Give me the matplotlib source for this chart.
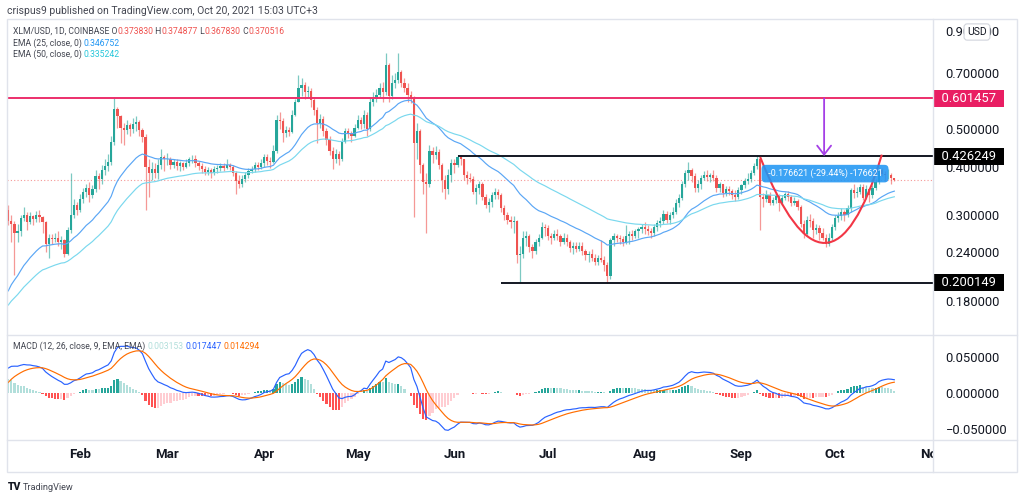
import numpy as np
import pandas as pd
import matplotlib
matplotlib.use("Agg")
import matplotlib.pyplot as plt
from matplotlib.patches import PathPatch, Rectangle
from matplotlib.path import Path
from matplotlib.lines import Line2D
from matplotlib.text import Annotation
from matplotlib.ticker import NullLocator, NullFormatter

plt.rcParams["font.family"] = ["Roboto", "DejaVu Sans"]

# ==========================================================
# Data : XLM/USD daily, Jan 9 -> Oct 20 2021
# ==========================================================

# closes before the visible window (Dec 1 -> Jan 8), only feed the EMAs / MACD
warmup_close = [
    0.170, 0.165, 0.168, 0.160, 0.162, 0.158, 0.155, 0.145, 0.148, 0.142,
    0.140, 0.142, 0.150, 0.152, 0.155, 0.160, 0.168, 0.165, 0.170, 0.168,
    0.158, 0.150, 0.118, 0.125, 0.128, 0.130, 0.135, 0.130, 0.125, 0.128, 0.130,
    0.132, 0.138, 0.152, 0.185, 0.220, 0.275, 0.310, 0.300,
]

first_open = 0.310

close = [
    # Jan 9-31
    0.290, 0.285, 0.270, 0.272, 0.295, 0.300, 0.288, 0.298, 0.293, 0.300, 0.296, 0.288,
    0.252, 0.262, 0.260, 0.262, 0.256, 0.258, 0.238, 0.275, 0.300, 0.318, 0.310,
    # Feb
    0.330, 0.345, 0.352, 0.338, 0.350, 0.378, 0.372, 0.392, 0.402, 0.412, 0.465, 0.565,
    0.540, 0.505, 0.498, 0.512, 0.500, 0.515, 0.522, 0.498, 0.478, 0.400, 0.385, 0.395,
    0.385, 0.405, 0.425, 0.418,
    # Mar
    0.418, 0.405, 0.412, 0.402, 0.408, 0.400, 0.410, 0.418, 0.420, 0.410, 0.402, 0.395,
    0.388, 0.392, 0.385, 0.395, 0.398, 0.402, 0.398, 0.405, 0.400, 0.385, 0.368, 0.362,
    0.372, 0.380, 0.390, 0.395, 0.405, 0.400, 0.410,
    # Apr
    0.425, 0.415, 0.412, 0.440, 0.530, 0.525, 0.490, 0.498, 0.492, 0.545, 0.590, 0.640,
    0.652, 0.625, 0.630, 0.595, 0.560, 0.520, 0.532, 0.495, 0.470, 0.440, 0.420, 0.432,
    0.418, 0.465, 0.495, 0.488, 0.480, 0.505,
    # May
    0.530, 0.515, 0.545, 0.500, 0.590, 0.600, 0.615, 0.640, 0.625, 0.735, 0.610, 0.660,
    0.672, 0.705, 0.660, 0.640, 0.615, 0.600, 0.460, 0.495, 0.405, 0.365, 0.360, 0.440,
    0.430, 0.438, 0.405, 0.370, 0.350, 0.380, 0.410,
    # Jun
    0.405, 0.425, 0.418, 0.382, 0.375, 0.372, 0.345, 0.352, 0.362, 0.335, 0.318, 0.325,
    0.338, 0.345, 0.338, 0.312, 0.300, 0.292, 0.288, 0.290, 0.236, 0.238, 0.262, 0.265,
    0.248, 0.242, 0.255, 0.262, 0.280, 0.278,
    # Jul
    0.265, 0.262, 0.268, 0.264, 0.256, 0.262, 0.255, 0.246, 0.250, 0.245, 0.250, 0.242,
    0.236, 0.238, 0.232, 0.226, 0.232, 0.230, 0.222, 0.208, 0.258, 0.265, 0.262, 0.260,
    0.256, 0.264, 0.268, 0.265, 0.272, 0.276, 0.280,
    # Aug
    0.276, 0.272, 0.270, 0.280, 0.286, 0.290, 0.302, 0.292, 0.300, 0.306, 0.322, 0.332,
    0.362, 0.385, 0.392, 0.378, 0.352, 0.362, 0.375, 0.382, 0.376, 0.380, 0.374, 0.352,
    0.360, 0.342, 0.350, 0.346, 0.338, 0.335, 0.348,
    # Sep
    0.358, 0.368, 0.372, 0.385, 0.402, 0.420, 0.335, 0.330, 0.338, 0.322, 0.328, 0.336,
    0.322, 0.332, 0.340, 0.334, 0.322, 0.326, 0.315, 0.285, 0.268, 0.292, 0.290, 0.275,
    0.278, 0.270, 0.262, 0.252, 0.262, 0.280,
    # Oct 1-20
    0.295, 0.298, 0.305, 0.300, 0.312, 0.348, 0.342, 0.345, 0.355, 0.332, 0.350, 0.338,
    0.352, 0.365, 0.392, 0.384, 0.380, 0.382, 0.373830, 0.370516,
]

high = [
    0.318, 0.300, 0.290, 0.285, 0.300, 0.315, 0.305, 0.305, 0.300, 0.308, 0.310, 0.298,
    0.290, 0.268, 0.268, 0.270, 0.272, 0.264, 0.260, 0.280, 0.385, 0.330, 0.325,
    0.340, 0.352, 0.362, 0.365, 0.358, 0.392, 0.385, 0.405, 0.420, 0.432, 0.480, 0.602,
    0.570, 0.545, 0.520, 0.530, 0.520, 0.535, 0.540, 0.530, 0.505, 0.485, 0.420, 0.412,
    0.410, 0.418, 0.445, 0.430,
    0.435, 0.425, 0.420, 0.418, 0.415, 0.412, 0.418, 0.425, 0.430, 0.428, 0.415, 0.410,
    0.402, 0.400, 0.398, 0.402, 0.405, 0.410, 0.408, 0.418, 0.410, 0.405, 0.390, 0.382,
    0.380, 0.388, 0.398, 0.402, 0.412, 0.412, 0.420,
    0.432, 0.432, 0.425, 0.455, 0.545, 0.555, 0.535, 0.510, 0.508, 0.560, 0.600, 0.690,
    0.680, 0.665, 0.648, 0.640, 0.605, 0.570, 0.548, 0.540, 0.505, 0.480, 0.450, 0.445,
    0.440, 0.475, 0.505, 0.505, 0.495, 0.515,
    0.545, 0.538, 0.560, 0.555, 0.605, 0.625, 0.635, 0.660, 0.665, 0.790, 0.745, 0.690,
    0.700, 0.790, 0.712, 0.680, 0.660, 0.630, 0.610, 0.520, 0.500, 0.410, 0.385, 0.455,
    0.450, 0.452, 0.445, 0.410, 0.380, 0.395, 0.418,
    0.418, 0.430, 0.428, 0.420, 0.390, 0.385, 0.378, 0.360, 0.368, 0.365, 0.340, 0.332,
    0.345, 0.352, 0.350, 0.342, 0.318, 0.305, 0.298, 0.298, 0.292, 0.250, 0.272, 0.272,
    0.268, 0.252, 0.260, 0.268, 0.288, 0.285,
    0.282, 0.270, 0.275, 0.276, 0.268, 0.270, 0.268, 0.258, 0.255, 0.255, 0.255, 0.255,
    0.245, 0.242, 0.245, 0.238, 0.236, 0.258, 0.235, 0.226, 0.262, 0.270, 0.268, 0.266,
    0.265, 0.282, 0.272, 0.275, 0.276, 0.280, 0.285,
    0.288, 0.282, 0.278, 0.284, 0.292, 0.296, 0.310, 0.308, 0.305, 0.315, 0.330, 0.340,
    0.368, 0.392, 0.412, 0.398, 0.385, 0.370, 0.380, 0.390, 0.392, 0.386, 0.392, 0.380,
    0.366, 0.362, 0.356, 0.356, 0.350, 0.348, 0.355,
    0.362, 0.375, 0.385, 0.392, 0.410, 0.428, 0.422, 0.342, 0.348, 0.345, 0.335, 0.342,
    0.340, 0.338, 0.345, 0.346, 0.338, 0.334, 0.330, 0.318, 0.292, 0.298, 0.302, 0.295,
    0.285, 0.282, 0.278, 0.268, 0.270, 0.285,
    0.300, 0.305, 0.312, 0.310, 0.318, 0.352, 0.360, 0.355, 0.362, 0.360, 0.358, 0.352,
    0.358, 0.372, 0.400, 0.398, 0.390, 0.395, 0.386, 0.374877,
]

low = [
    0.283, 0.255, 0.210, 0.255, 0.265, 0.290, 0.275, 0.285, 0.282, 0.288, 0.288, 0.270,
    0.240, 0.232, 0.252, 0.255, 0.250, 0.245, 0.234, 0.236, 0.270, 0.295, 0.300,
    0.305, 0.322, 0.335, 0.325, 0.332, 0.345, 0.350, 0.362, 0.380, 0.390, 0.405, 0.455,
    0.505, 0.460, 0.455, 0.485, 0.480, 0.490, 0.495, 0.480, 0.465, 0.310, 0.335, 0.370,
    0.375, 0.372, 0.395, 0.390,
    0.405, 0.395, 0.398, 0.392, 0.390, 0.392, 0.398, 0.402, 0.410, 0.400, 0.392, 0.385,
    0.380, 0.382, 0.375, 0.380, 0.385, 0.390, 0.390, 0.395, 0.392, 0.378, 0.340, 0.352,
    0.355, 0.365, 0.375, 0.385, 0.388, 0.392, 0.395,
    0.400, 0.405, 0.398, 0.408, 0.435, 0.500, 0.465, 0.478, 0.480, 0.488, 0.540, 0.590,
    0.610, 0.600, 0.605, 0.570, 0.545, 0.460, 0.505, 0.480, 0.455, 0.430, 0.395, 0.410,
    0.405, 0.415, 0.460, 0.475, 0.465, 0.478,
    0.500, 0.500, 0.505, 0.480, 0.495, 0.575, 0.590, 0.605, 0.590, 0.615, 0.590, 0.600,
    0.640, 0.660, 0.645, 0.625, 0.590, 0.585, 0.297, 0.420, 0.385, 0.340, 0.270, 0.355,
    0.410, 0.420, 0.395, 0.345, 0.330, 0.340, 0.365,
    0.385, 0.400, 0.405, 0.370, 0.360, 0.365, 0.340, 0.320, 0.340, 0.328, 0.312, 0.305,
    0.315, 0.330, 0.330, 0.305, 0.292, 0.285, 0.278, 0.270, 0.225, 0.200, 0.232, 0.250,
    0.240, 0.232, 0.238, 0.250, 0.260, 0.265,
    0.258, 0.252, 0.258, 0.258, 0.250, 0.252, 0.250, 0.240, 0.238, 0.240, 0.242, 0.236,
    0.230, 0.226, 0.228, 0.222, 0.222, 0.226, 0.215, 0.200, 0.205, 0.250, 0.255, 0.252,
    0.250, 0.252, 0.252, 0.258, 0.262, 0.262, 0.270,
    0.268, 0.266, 0.262, 0.265, 0.272, 0.280, 0.285, 0.286, 0.284, 0.295, 0.302, 0.315,
    0.328, 0.355, 0.370, 0.365, 0.345, 0.345, 0.350, 0.370, 0.368, 0.365, 0.368, 0.345,
    0.345, 0.335, 0.336, 0.338, 0.330, 0.326, 0.330,
    0.340, 0.352, 0.360, 0.365, 0.380, 0.395, 0.275, 0.315, 0.325, 0.318, 0.318, 0.322,
    0.308, 0.318, 0.328, 0.326, 0.316, 0.318, 0.310, 0.280, 0.262, 0.265, 0.280, 0.262,
    0.268, 0.258, 0.258, 0.248, 0.250, 0.258,
    0.275, 0.288, 0.292, 0.290, 0.296, 0.305, 0.332, 0.335, 0.340, 0.328, 0.330, 0.325,
    0.332, 0.348, 0.360, 0.378, 0.368, 0.372, 0.362, 0.367830,
]

month_labels = ["Feb", "Mar", "Apr", "May", "Jun", "Jul", "Aug", "Sep", "Oct", "Nov"]
price_ticks = [0.18, 0.24, 0.30, 0.40, 0.50, 0.70, 0.90]
macd_ticks = [-0.05, 0.0, 0.05]

resistance = 0.601457
neckline = 0.426249
support = 0.200149
last_price = 0.370516

# ==========================================================
# Indicators
# ==========================================================

dates = pd.date_range("2021-01-09", "2021-10-20", freq="D")
ref = pd.Timestamp("2021-02-01")
x = np.asarray((dates - ref).days, dtype=float)

close = np.array(close)
high = np.array(high)
low = np.array(low)
opens = np.concatenate([[first_open], close[:-1]])

n_warm = len(warmup_close)
full = pd.Series(list(warmup_close) + list(close))
ema25 = full.ewm(span=25, adjust=False).mean().values[n_warm:]
ema50 = full.ewm(span=50, adjust=False).mean().values[n_warm:]
macd_full = full.ewm(span=12, adjust=False).mean() - full.ewm(span=26, adjust=False).mean()
signal_full = macd_full.ewm(span=9, adjust=False).mean()
hist_full = (macd_full - signal_full).values
macd = macd_full.values[n_warm:]
signal = signal_full.values[n_warm:]
hist = hist_full[n_warm:]
hist_prev = hist_full[n_warm - 1:-1]

hist_colors = []
for h, p in zip(hist, hist_prev):
    if h >= 0:
        hist_colors.append("#26a69a" if h > p else "#b2dfdb")
    else:
        hist_colors.append("#ffcdd2" if h > p else "#ff5252")

month_x = np.asarray((pd.date_range("2021-02-01", "2021-11-01", freq="MS") - ref).days, dtype=float)

# ==========================================================
# Figure layout (pixels of a 1024x496 canvas)
# ==========================================================

W, H = 1024, 496


def fx(px):
    return px / W


def fy(py):
    return 1 - py / H


fig = plt.figure(figsize=(10.24, 4.96), dpi=100)
fig.patch.set_facecolor("white")

L, R = 7, 933
ax = fig.add_axes([fx(L), fy(334), (R - L) / W, (334 - 19) / H])
axm = fig.add_axes([fx(L), fy(440), (R - L) / W, (440 - 335) / H])
axt = fig.add_axes([fx(L), fy(472), (R - L) / W, (472 - 440) / H])

x_lo, x_hi = -23.4, 273.4
for a in (ax, axm, axt):
    a.set_xlim(x_lo, x_hi)
    a.set_xticks([])
    for s in a.spines.values():
        s.set_visible(False)
    a.patch.set_alpha(0)

# ==========================================================
# Main panel : candles + EMA
# ==========================================================

up = close >= opens
body_col = np.where(up, "#26a69a", "#ef5350")
bottoms = np.minimum(opens, close)
heights = np.maximum(np.abs(close - opens), close * 0.003)

ax.vlines(x, low, high, colors=body_col, lw=0.9, alpha=0.6, zorder=3)
ax.bar(x, heights, bottom=bottoms, width=0.72, color=body_col, lw=0, zorder=3)

ax.plot(x, ema25, color="#5aa6f5", lw=0.85, zorder=4)
ax.plot(x, ema50, color="#7ad8ee", lw=0.85, zorder=4)

ax.set_yscale("log")
ax.set_ylim(0.1475, 0.966)
ax.yaxis.set_minor_locator(NullLocator())
ax.yaxis.set_minor_formatter(NullFormatter())
ax.yaxis.tick_right()
ax.set_yticks(price_ticks)
ax.set_yticklabels([f"{v:.6f}" for v in price_ticks])
ax.tick_params(axis="y", length=0, pad=9, labelsize=9.4, labelcolor="#131722")

# horizontal levels
ax.axhline(last_price, color="#ef5350", lw=0.8, ls=(0, (1, 2)), alpha=0.6, zorder=2)
ax.axhline(resistance, color="#ec2f6b", lw=1.4, zorder=5)
ax.hlines(neckline, 121.3, x_hi, color="#131722", lw=1.4, zorder=5)
ax.hlines(support, 135.0, x_hi, color="#131722", lw=1.4, zorder=5)

for val, col in [(resistance, "#e91e63"), (neckline, "#000000"), (support, "#000000")]:
    ax.annotate(f"  {val:.6f}  ", xy=(1, val), xycoords=("axes fraction", "data"),
                xytext=(1.4, 0), textcoords="offset points", ha="left", va="center",
                color="white", fontsize=9.4, annotation_clip=False, zorder=10,
                bbox=dict(boxstyle="square,pad=0.15", fc=col, ec="none"))

# measured drop arrow
ax.annotate("", xy=(238.5, neckline), xytext=(238.5, resistance),
            arrowprops=dict(arrowstyle="->,head_length=0.65,head_width=0.5",
                            color="#a53fe6", lw=1.3, shrinkA=0, shrinkB=0), zorder=6)

# cup curve
cup = Path([(218.0, 0.424), (240.0, 0.151), (257.0, 0.430)],
           [Path.MOVETO, Path.CURVE3, Path.CURVE3])
ax.add_patch(PathPatch(cup, fill=False, ec="#f23645", lw=1.5, zorder=6,
                       transform=ax.transData))

ax.text(238.8, 0.384, " -0.176621 (-29.44%) -176621 ", ha="center", va="center",
        color="white", fontsize=6.4, zorder=7,
        bbox=dict(boxstyle="round,pad=0.45", fc="#2196f3", ec="none", alpha=0.88))

# ==========================================================
# MACD panel
# ==========================================================

axm.bar(x, hist, width=0.7, color=hist_colors, lw=0, zorder=2)
axm.plot(x, macd, color="#2962ff", lw=0.85, zorder=3)
axm.plot(x, signal, color="#ff6d00", lw=0.85, zorder=3)
axm.set_ylim(-0.0644, 0.0795)
axm.yaxis.tick_right()
axm.set_yticks(macd_ticks)
axm.set_yticklabels([f"{v:.6f}".replace("-", "\u2212") for v in macd_ticks])
axm.tick_params(axis="y", length=0, pad=9, labelsize=9.4, labelcolor="#131722")

# ==========================================================
# Time scale
# ==========================================================

axt.set_yticks([])
for mx, lab in zip(month_x, month_labels):
    axt.text(mx, 0.56, lab, transform=axt.get_xaxis_transform(), ha="center", va="center",
             fontsize=9.5, fontweight="bold", color="#131722", clip_on=True)

# ==========================================================
# Frame, separators, texts
# ==========================================================

grid_col = "#e0e3eb"
fig.add_artist(Rectangle((fx(7), fy(472)), (1017 - 7) / W, (472 - 19) / H,
                         transform=fig.transFigure, fill=False, ec=grid_col, lw=1))
for py in (334.5, 440):
    fig.add_artist(Line2D([fx(7), fx(1017)], [fy(py), fy(py)], transform=fig.transFigure,
                          color=grid_col, lw=1))
fig.add_artist(Line2D([fx(R), fx(R)], [fy(19), fy(472)], transform=fig.transFigure,
                      color=grid_col, lw=1))


def chain(x0, y0, parts, size):
    # pieces of text of different colours, one after the other
    t = fig.text(x0, y0, parts[0][0], color=parts[0][1], fontsize=size,
                 ha="left", va="center")
    for s, c in parts[1:]:
        t = fig.add_artist(Annotation(s, xy=(1, 0), xycoords=t, va="bottom", ha="left",
                                      color=c, fontsize=size))
    return t


fig.text(fx(7), fy(11), "crispus9 published on TradingView.com, Oct 20, 2021 15:03 UTC+3",
         fontsize=7.5, color="#434651", ha="left", va="center")

dark = "#434651"
red = "#ef5350"
chain(fx(13), fy(31), [("XLM/USD, 1D, COINBASE O", dark), ("0.373830", red),
                       (" H", dark), ("0.374877", red), (" L", dark), ("0.367830", red),
                       (" C", dark), ("0.370516", red)], 6.2)
chain(fx(13), fy(43), [("EMA (25, close, 0) ", dark), ("0.346752", "#2196f3")], 6.2)
chain(fx(13), fy(54), [("EMA (50, close, 0) ", dark), ("0.335242", "#26c6da")], 6.2)
chain(fx(13), fy(346), [("MACD (12, 26, close, 9, EMA, EMA) ", dark), ("0.003153", "#b2dfdb"),
                        (" ", dark), ("0.017447", "#2962ff"), (" ", dark),
                        ("0.014294", "#ff6d00")], 6.2)

fig.text(fx(977), fy(32), "USD", fontsize=7.5, color="#131722", ha="center", va="center",
         bbox=dict(boxstyle="round,pad=0.3", fc="white", ec="#d1d4dc", lw=0.8), zorder=10)

fig.text(fx(8), fy(487), "TV", fontsize=7.5, fontweight="black", color="#131722",
         ha="left", va="center")
fig.text(fx(23), fy(487), "TradingView", fontsize=6.6, color="#434651", ha="left", va="center")

fig.savefig("out.png", dpi=100, facecolor="white")
